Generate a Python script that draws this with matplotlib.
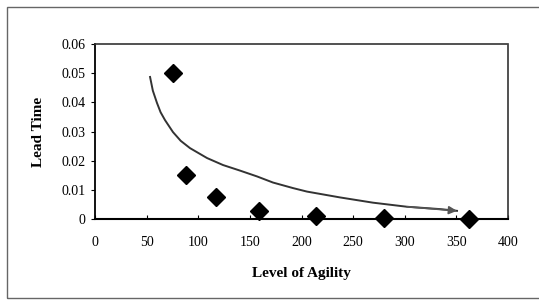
import numpy as np
import matplotlib.pyplot as plt
from matplotlib.patches import Rectangle

# measured points (diamonds)
agility = [75.5, 88, 117, 159, 214, 280, 362]
lead_time = [0.050, 0.0151, 0.0075, 0.0027, 0.0010, 0.0002, 0.0]

# hand drawn trend curve
curve_x = [53.3, 56.0, 60.0, 63.5, 67.8, 75.5, 83.0, 92.0, 108.5, 124.0, 140.4,
           156.9, 172.4, 191.8, 205.3, 237.3, 269.2, 302.2, 334.1, 350.6]
curve_y = [0.0487, 0.0440, 0.0398, 0.0366, 0.0339, 0.0298, 0.0268, 0.0243,
           0.0209, 0.0185, 0.0166, 0.0146, 0.0125, 0.0106, 0.0094, 0.0074,
           0.0056, 0.0042, 0.0034, 0.0028]

xticks = [0, 50, 100, 150, 200, 250, 300, 350, 400]
yticks = [0, 0.01, 0.02, 0.03, 0.04, 0.05, 0.06]
ytick_labels = ['0', '0.01', '0.02', '0.03', '0.04', '0.05', '0.06']

plt.rcParams['font.family'] = ['Liberation Serif', 'DejaVu Serif']

fig = plt.figure(figsize=(5.39, 3.01), dpi=100)
ax = fig.add_axes([0.1763, 0.2724, 0.7662, 0.5814])

# outer frame of the chart (right side runs off the picture)
fig.patches.append(Rectangle((0.013, 0.01), 1.1, 0.967, transform=fig.transFigure,
                             fill=False, edgecolor='#666666', linewidth=1.0))

ax.plot(curve_x, curve_y, color='#333333', linewidth=1.4, zorder=2)
ax.annotate('', xy=(curve_x[-1], curve_y[-1]), xytext=(curve_x[-3], curve_y[-3]),
            arrowprops=dict(arrowstyle='-|>', color='#555555', lw=1.2,
                            mutation_scale=12, shrinkA=0, shrinkB=0), zorder=2)

ax.plot(agility, lead_time, linestyle='none', marker='D', markersize=9.5,
        color='black', clip_on=False, zorder=3)

ax.set_xlim(0, 400)
ax.set_ylim(0, 0.06)
ax.set_xticks(xticks)
ax.set_yticks(yticks)
ax.set_yticklabels(ytick_labels)
ax.tick_params(axis='x', direction='in', length=3, labelsize=10, pad=12)
ax.tick_params(axis='y', direction='out', length=3, labelsize=10, pad=4)

ax.spines['left'].set_linewidth(1.3)
ax.spines['bottom'].set_linewidth(1.5)
for s in ['top', 'right']:
    ax.spines[s].set_linestyle((0, (1, 1)))
    ax.spines[s].set_color('#333333')
    ax.spines[s].set_linewidth(1.2)

ax.set_xlabel('Level of Agility', fontsize=11, fontweight='bold', labelpad=13)
ax.set_ylabel('Lead Time', fontsize=11, fontweight='bold', labelpad=12)

fig.savefig('out.png', dpi=100)
